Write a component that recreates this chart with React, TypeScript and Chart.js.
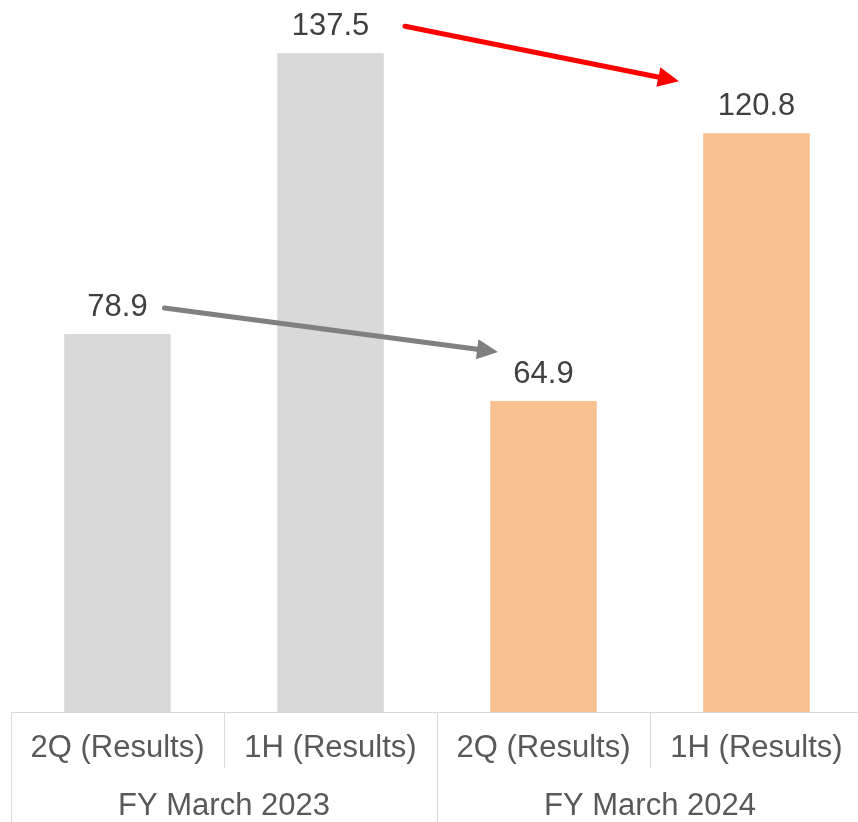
import { useEffect, useRef } from "react";
import { Chart, registerables } from "chart.js";

Chart.register(...registerables);

// Periods shown under each bar, grouped by fiscal year
const periods = ["2Q (Results)", "1H (Results)", "2Q (Results)", "1H (Results)"];
const fiscalYears = ["FY March 2023", "FY March 2024"];
const values = [78.9, 137.5, 64.9, 120.8];
const barColors = ["#D9D9D9", "#D9D9D9", "#F9C191", "#F9C191"];

// Year-over-year comparison arrows (bar index -> bar index)
const arrowFrom = [0, 1];
const arrowTo = [2, 3];
const arrowColors = ["#808080", "#FF0000"];

const FONT = "'Liberation Sans', Arial, sans-serif";
const GRID = "#D9D9D9";

// Arrow anchor offsets relative to the bar tops they connect
const ARROW_OFFSETS = [
  { sx: 47, sy: -26, ex: -45.5, ey: -49 },
  { sx: 74.5, sy: -27, ex: -77.5, ey: -52 },
];

const annotations = {
  id: "annotations",
  afterDatasetsDraw(chart: any) {
    const ctx = chart.ctx;
    const meta = chart.getDatasetMeta(0);
    ctx.save();
    // value labels
    ctx.font = `31px ${FONT}`;
    ctx.fillStyle = "#404040";
    ctx.textAlign = "center";
    ctx.textBaseline = "middle";
    meta.data.forEach((bar: any, i: number) => {
      ctx.fillText(values[i].toFixed(1), bar.x, bar.y - 26.5);
    });
    // arrows
    arrowFrom.forEach((fi, k) => {
      const a = meta.data[fi];
      const b = meta.data[arrowTo[k]];
      const o = ARROW_OFFSETS[k];
      const x1 = a.x + o.sx;
      const y1 = a.y + o.sy;
      const x2 = b.x + o.ex;
      const y2 = b.y + o.ey;
      const ang = Math.atan2(y2 - y1, x2 - x1);
      const headLen = 21;
      const headHalf = 10;
      const bx = x2 - headLen * Math.cos(ang);
      const by = y2 - headLen * Math.sin(ang);
      ctx.strokeStyle = arrowColors[k];
      ctx.fillStyle = arrowColors[k];
      ctx.lineWidth = 5;
      ctx.lineCap = "round";
      ctx.beginPath();
      ctx.moveTo(x1, y1);
      ctx.lineTo(bx + 2 * Math.cos(ang), by + 2 * Math.sin(ang));
      ctx.stroke();
      ctx.beginPath();
      ctx.moveTo(x2, y2);
      ctx.lineTo(bx - headHalf * Math.sin(ang), by + headHalf * Math.cos(ang));
      ctx.lineTo(bx + headHalf * Math.sin(ang), by - headHalf * Math.cos(ang));
      ctx.closePath();
      ctx.fill();
    });
    ctx.restore();
  },
};

export default function App() {
  const ref = useRef<HTMLCanvasElement>(null);

  useEffect(() => {
    if (!ref.current) return;
    const chart = new Chart(ref.current, {
      type: "bar",
      data: {
        labels: periods,
        datasets: [
          {
            data: values,
            backgroundColor: barColors,
            categoryPercentage: 0.5,
            barPercentage: 1,
            xAxisID: "x",
            yAxisID: "y",
          },
        ],
      },
      options: {
        responsive: false,
        animation: false,
        layout: { padding: { left: 11, right: 1, top: 0, bottom: 0 } },
        plugins: { legend: { display: false }, tooltip: { enabled: false } },
        scales: {
          x: {
            type: "category",
            position: "bottom",
            weight: 0,
            offset: true,
            grid: {
              offset: true,
              drawOnChartArea: false,
              drawTicks: true,
              tickLength: 56,
              color: GRID,
              lineWidth: 1,
            },
            border: { display: true, color: GRID, width: 1 },
            ticks: {
              padding: -37.8,
              color: "#595959",
              font: { family: FONT, size: 31 },
              maxRotation: 0,
              autoSkip: false,
            },
            afterFit: (s: any) => {
              s.height = 56;
            },
          },
          x2: {
            type: "category",
            labels: fiscalYears,
            position: "bottom",
            weight: 1,
            offset: true,
            grid: {
              offset: true,
              drawOnChartArea: false,
              drawTicks: true,
              tickLength: 54,
              color: GRID,
              lineWidth: 1,
            },
            border: { display: false },
            ticks: {
              padding: -34.4,
              color: "#595959",
              font: { family: FONT, size: 31 },
              maxRotation: 0,
              autoSkip: false,
            },
            afterFit: (s: any) => {
              s.height = 54;
            },
          },
          y: { display: false, min: 0, max: 148.6 },
        },
      } as any,
      plugins: [annotations],
    });
    return () => chart.destroy();
  }, []);

  return (
    <div
      style={{
        position: "absolute",
        left: 0,
        top: 0,
        width: 858,
        height: 822,
        overflow: "hidden",
        background: "#fff",
      }}
    >
      <canvas ref={ref} width={864} height={822} style={{ display: "block" }} />
    </div>
  );
}
